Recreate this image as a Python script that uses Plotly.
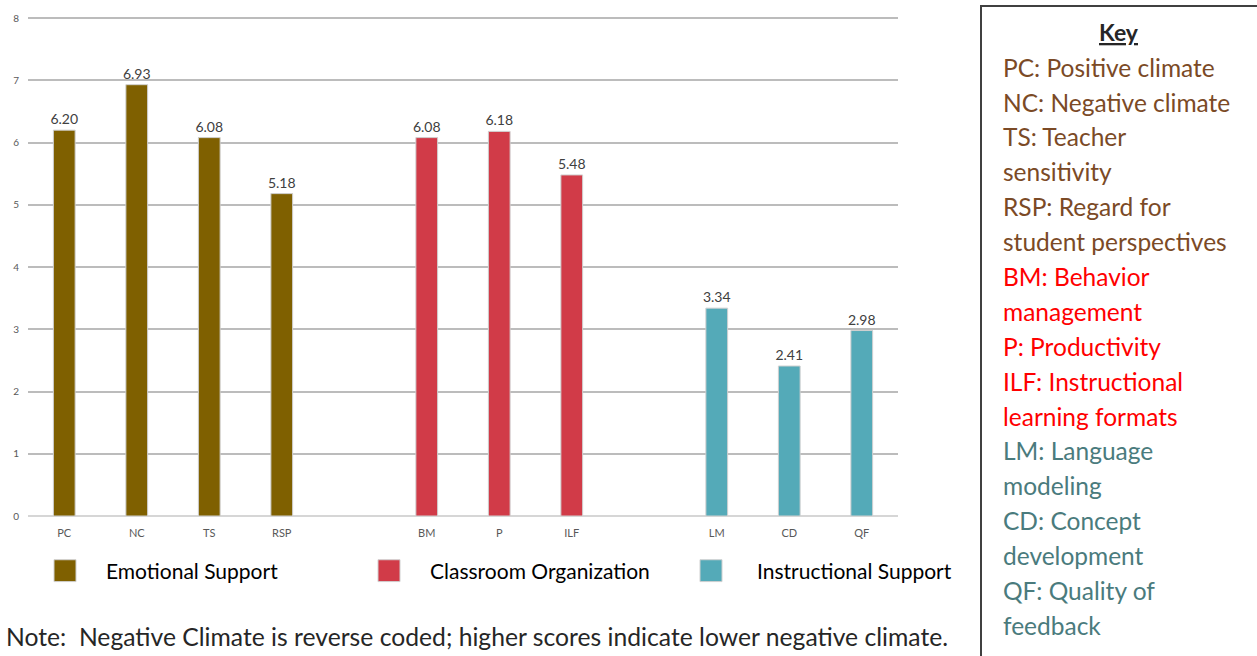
import plotly.graph_objects as go

categories_order = ["PC", "NC", "TS", "RSP", " ", "BM", "P", "ILF", "  ", "LM", "CD", "QF"]

emotional_cats = ["PC", "NC", "TS", "RSP"]
emotional_vals = [6.20, 6.93, 6.08, 5.18]
classroom_cats = ["BM", "P", "ILF"]
classroom_vals = [6.08, 6.18, 5.48]
instruct_cats = ["LM", "CD", "QF"]
instruct_vals = [3.34, 2.41, 2.98]

series_names = ["Emotional Support", "Classroom Organization", "Instructional Support"]
bar_colors = ["#7f6000", "#d13b48", "#54aab8"]

key_lines = [
    ("PC: Positive climate", "#7b4a26"),
    ("NC: Negative climate", "#7b4a26"),
    ("TS: Teacher", "#7b4a26"),
    ("sensitivity", "#7b4a26"),
    ("RSP: Regard for", "#7b4a26"),
    ("student perspectives", "#7b4a26"),
    ("BM: Behavior", "#ff0000"),
    ("management", "#ff0000"),
    ("P: Productivity", "#ff0000"),
    ("ILF: Instructional", "#ff0000"),
    ("learning formats", "#ff0000"),
    ("LM: Language", "#4a7b7d"),
    ("modeling", "#4a7b7d"),
    ("CD: Concept", "#4a7b7d"),
    ("development", "#4a7b7d"),
    ("QF: Quality of", "#4a7b7d"),
    ("feedback", "#4a7b7d"),
]
note_text = "Note:  Negative Climate is reverse coded; higher scores indicate lower negative climate."

FONT = "Lato"
W, H = 1257, 656
L, R, T, B = 28, 898, 12, 516


def px(x):
    return (x - L) / (R - L)


def py(y):
    return (B - y) / (B - T)


fig = go.Figure()
for name, cats, vals, col in zip(series_names,
                                 [emotional_cats, classroom_cats, instruct_cats],
                                 [emotional_vals, classroom_vals, instruct_vals],
                                 bar_colors):
    fig.add_trace(go.Bar(
        x=cats, y=vals, name=name, width=0.3,
        marker=dict(color=col, line=dict(color="#d0d0d0", width=1)),
        texttemplate="%{y:.2f}", textposition="outside", constraintext="none",
        textfont=dict(size=14, color="#404040", family=FONT),
        cliponaxis=False, showlegend=False,
    ))

fig.update_layout(
    width=W, height=H,
    margin=dict(l=L, r=W - R, t=T, b=H - B),
    plot_bgcolor="white", paper_bgcolor="white",
    barmode="overlay",
    font=dict(family=FONT),
    xaxis=dict(
        type="category", categoryorder="array", categoryarray=categories_order,
        range=[-0.5, 11.5], showgrid=False, ticks="",
        tickfont=dict(size=11, color="#595959"), ticklabelstandoff=9,
        showline=False, zeroline=False,
    ),
    yaxis=dict(
        range=[0, 8.05], tickvals=list(range(0, 9)), showgrid=True, gridcolor="#bcbcbc", gridwidth=1.5,
        zeroline=True, zerolinecolor="#d6d6d6", zerolinewidth=2,
        tickfont=dict(size=10, color="#595959"), ticklabelstandoff=8, ticks="",
    ),
)

shapes = []
annotations = []

# legend
legend_sq_x = [54, 378, 700]
legend_txt_x = [104, 428, 755]
for sx, tx, name, col in zip(legend_sq_x, legend_txt_x, series_names, bar_colors):
    shapes.append(dict(type="rect", xref="paper", yref="paper",
                       x0=px(sx), x1=px(sx + 22), y0=py(582), y1=py(560),
                       fillcolor=col, line=dict(color="#d0d0d0", width=1)))
    annotations.append(dict(xref="paper", yref="paper", x=px(tx), y=py(571),
                            xanchor="left", yanchor="middle", showarrow=False,
                            text=name, font=dict(size=21, color="#000000", family=FONT)))

# note
annotations.append(dict(xref="paper", yref="paper", x=px(4), y=py(637),
                        xanchor="left", yanchor="middle", showarrow=False,
                        text=note_text, font=dict(size=24.7, color="#262626", family=FONT)))

# key box
shapes.append(dict(type="rect", xref="paper", yref="paper",
                   x0=px(981), x1=px(1270), y0=py(670), y1=py(3),
                   fillcolor="rgba(0,0,0,0)", line=dict(color="#404040", width=2)))
annotations.append(dict(xref="paper", yref="paper", x=px(1119), y=py(29),
                        xanchor="center", yanchor="middle", showarrow=False,
                        text="<b><u>Key</u></b>", font=dict(size=23, color="#262626", family=FONT)))
y0, dy = 64.5, 35.1
for i, (txt, col) in enumerate(key_lines):
    annotations.append(dict(xref="paper", yref="paper", x=px(1001), y=py(y0 + i * dy),
                            xanchor="left", yanchor="middle", showarrow=False,
                            text=txt, font=dict(size=24.5, color=col, family=FONT)))

fig.update_layout(shapes=shapes, annotations=annotations)
fig.write_html("out.html", config={"displayModeBar": False},
               post_script="document.body.style.margin='0';document.body.style.overflow='hidden';")
